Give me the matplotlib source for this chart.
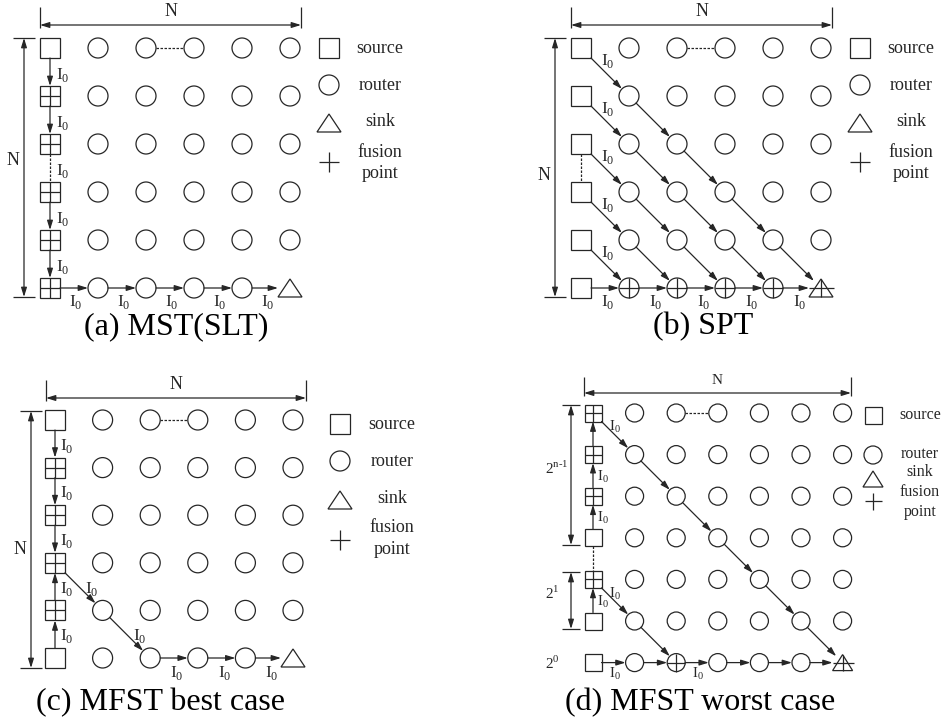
import matplotlib.pyplot as plt
from matplotlib.patches import Rectangle, Circle, Polygon

plt.rcParams['font.family'] = ['Liberation Serif', 'DejaVu Serif']
plt.rcParams['mathtext.fontset'] = 'custom'
plt.rcParams['mathtext.rm'] = 'Liberation Serif'

INK = '#262626'
LW = 0.9

# node kinds: S source, F source + fusion, R router, C router + fusion,
# T sink, X sink + fusion
grid_a = ["SRRRRR", "FRRRRR", "FRRRRR", "FRRRRR", "FRRRRR", "FRRRRT"]
grid_b = ["SRRRRR", "SRRRRR", "SRRRRR", "SRRRRR", "SRRRRR", "SCCCCX"]
grid_c = ["SRRRRR", "FRRRRR", "FRRRRR", "FRRRRR", "FRRRRR", "SRRRRT"]
grid_d = ["FRRRRRR", "FRRRRRR", "FRRRRRR", "SRRRRRR",
          "FRRRRRR", "SRRRRRR", "SRCRRRX"]

# routes as (row, col) chains, with a flag per hop for an I0 label
chains_a = [
    ([(0, 0), (1, 0), (2, 0)], [1, 1]),
    ([(3, 0), (4, 0), (5, 0), (5, 1), (5, 2), (5, 3), (5, 4), (5, 5)],
     [1, 1, 1, 1, 1, 1, 1]),
]
chains_b = [
    ([(0, 0), (1, 1), (2, 2), (3, 3), (4, 4), (5, 5)], [1, 0, 0, 0, 0]),
    ([(1, 0), (2, 1), (3, 2), (4, 3), (5, 4)], [1, 0, 0, 0]),
    ([(2, 0), (3, 1), (4, 2), (5, 3)], [1, 0, 0]),
    ([(3, 0), (4, 1), (5, 2)], [1, 0]),
    ([(4, 0), (5, 1)], [1]),
    ([(5, 0), (5, 1), (5, 2), (5, 3), (5, 4), (5, 5)], [1, 1, 1, 1, 1]),
]
chains_c = [
    ([(0, 0), (1, 0), (2, 0), (3, 0)], [1, 1, 1]),
    ([(5, 0), (4, 0), (3, 0)], [1, 1]),
    ([(3, 0), (4, 1), (5, 2), (5, 3), (5, 4), (5, 5)], [1, 1, 1, 1, 1]),
]
chains_d = [
    ([(3, 0), (2, 0), (1, 0), (0, 0)], [1, 1, 0]),
    ([(5, 0), (4, 0)], [1]),
    ([(0, 0), (1, 1), (2, 2), (3, 3), (4, 4), (5, 5), (6, 6)],
     [1, 0, 0, 0, 0, 0]),
    ([(4, 0), (5, 1), (6, 2)], [1, 0]),
    ([(6, 0), (6, 1), (6, 2), (6, 3), (6, 4), (6, 5), (6, 6)],
     [1, 0, 1, 0, 0, 0]),
]
# skipped stretches of the grid (dashed, no arrow head)
gaps_a = [((2, 0), (3, 0), 1), ((0, 2), (0, 3), 0)]
gaps_b = [((2, 0), (3, 0), 0), ((0, 2), (0, 3), 0)]
gaps_c = [((0, 2), (0, 3), 0)]
gaps_d = [((3, 0), (4, 0), 0), ((0, 2), (0, 3), 0)]

titles = ["(a) MST(SLT)", "(b) SPT", "(c) MFST best case", "(d) MFST worst case"]
legend_names = ["source", "router", "sink", "fusion\npoint"]
edge_label = "I$_0$"

fig = plt.figure(figsize=(9.43, 7.25), dpi=100)
ax = fig.add_axes([0, 0, 1, 1])
ax.set_xlim(0, 943)
ax.set_ylim(725, 0)
ax.axis('off')

big = dict(x0=0, y0=0, step=48, sq=10, r=10, tw=12, tup=8, tdn=9, fs=12.5)
small = dict(x0=0, y0=0, step=41.6, sq=8.5, r=9, tw=10, tup=7, tdn=8, fs=10.5)

lay_a = dict(big, x0=50, y0=48, step=48,
             off={'v': (13, 3), 'h': (2, 14), 'd': (3, -11)})
lay_b = dict(big, x0=581, y0=48, step=48,
             off={'v': (13, 3), 'h': (3, 14), 'd': (3, -11)})
lay_c = dict(big, x0=55, y0=420, step=47.6,
             off={'v': (12, 2), 'h': (3, 15), 'd': (13, 2)})
lay_d = dict(small, x0=593, y0=413, step=41.6,
             off={'v': (10, 1), 'h': (1, 11), 'd': (1, -7)})


def pos(lay, rc):
    return lay['x0'] + rc[1] * lay['step'], lay['y0'] + rc[0] * lay['step']


def line(xs, ys, **kw):
    ax.plot(xs, ys, color=INK, lw=LW, solid_capstyle='butt', **kw)


def shape(kind, x, y, lay):
    h, r, tw = lay['sq'], lay['r'], lay['tw']
    if kind in 'SF':
        ax.add_patch(Rectangle((x - h, y - h), 2 * h, 2 * h, fill=False, ec=INK, lw=LW))
        if kind == 'F':
            line([x - h, x + h], [y, y])
            line([x, x], [y - h, y + h])
    elif kind in 'RC':
        ax.add_patch(Circle((x, y), r, fill=False, ec=INK, lw=LW))
        if kind == 'C':
            line([x - r, x + r], [y, y])
            line([x, x], [y - r, y + r])
    else:
        top, bot = y - lay['tup'] - 1, y + lay['tdn']
        ax.add_patch(Polygon([(x - tw, bot), (x + tw, bot), (x, top)],
                             closed=True, fill=False, ec=INK, lw=LW))
        if kind == 'X':
            line([x, x], [top, bot])
            line([x - tw, x + tw + 1], [y, y])


def reach(kind, ux, uy, lay):
    # distance from a node centre to its outline along (ux, uy)
    if kind in 'SF':
        return lay['sq'] / max(abs(ux), abs(uy))
    if kind in 'RC':
        return lay['r']
    return lay['tw'] if abs(uy) < 1e-6 else lay['r']


def hop(grid, lay, a, b, arrow=True, label=False):
    (x0, y0), (x1, y1) = pos(lay, a), pos(lay, b)
    dx, dy = x1 - x0, y1 - y0
    d = (dx ** 2 + dy ** 2) ** 0.5
    ux, uy = dx / d, dy / d
    ka, kb = grid[a[0]][a[1]], grid[b[0]][b[1]]
    sa, sb = reach(ka, ux, uy, lay), reach(kb, -ux, -uy, lay)
    p0 = (x0 + ux * sa, y0 + uy * sa)
    p1 = (x1 - ux * sb, y1 - uy * sb)
    if arrow:
        ax.annotate('', xy=p1, xytext=p0,
                    arrowprops=dict(arrowstyle='-|>,head_length=0.55,head_width=0.17',
                                    color=INK, lw=LW, mutation_scale=10,
                                    shrinkA=0, shrinkB=0))
    else:
        line([p0[0], p1[0]], [p0[1], p1[1]], ls=(0, (2, 1.2)))
    if label:
        kind = 'v' if abs(dx) < 1e-6 else ('h' if abs(dy) < 1e-6 else 'd')
        ox, oy = lay['off'][kind]
        ax.text((x0 + x1) / 2 + ox, (y0 + y1) / 2 + oy, edge_label,
                fontsize=lay['fs'], ha='center', va='center', color=INK)


def dim_h(xa, xb, y, ytop, ybot, text, ty, fs):
    line([xa, xa], [ytop, ybot])
    line([xb, xb], [ytop, ybot])
    ax.annotate('', xy=(xb, y), xytext=(xa, y),
                arrowprops=dict(arrowstyle='<|-|>,head_length=0.55,head_width=0.17',
                                color=INK, lw=LW, mutation_scale=10,
                                shrinkA=0, shrinkB=0))
    if text:
        ax.text((xa + xb) / 2, ty, text, fontsize=fs, ha='center', va='center', color=INK)


def dim_v(ya, yb, x, xl, xr, text, tx, ty, fs):
    line([xl, xr], [ya, ya])
    line([xl, xr], [yb, yb])
    ax.annotate('', xy=(x, yb), xytext=(x, ya),
                arrowprops=dict(arrowstyle='<|-|>,head_length=0.55,head_width=0.17',
                                color=INK, lw=LW, mutation_scale=10,
                                shrinkA=0, shrinkB=0))
    if text:
        ax.text(tx, ty, text, fontsize=fs, ha='center', va='center', color=INK)


def legend(x, ys, tx, tys, lay, fs):
    h = lay['sq']
    shape('S', x, ys[0], lay)
    shape('R', x, ys[1], lay)
    shape('T', x, ys[2], lay)
    line([x - h, x + h], [ys[3], ys[3]])
    line([x, x], [ys[3] - h, ys[3] + h])
    for name, ty in zip(legend_names[:3], tys[:3]):
        ax.text(tx, ty, name, fontsize=fs, ha='center', va='center', color=INK)
    top, bottom = legend_names[3].split('\n')
    ax.text(tx, tys[3], top, fontsize=fs, ha='center', va='center', color=INK)
    ax.text(tx, tys[4], bottom, fontsize=fs, ha='center', va='center', color=INK)


def panel(grid, chains, gaps, lay):
    for i, row in enumerate(grid):
        for j, kind in enumerate(row):
            x, y = pos(lay, (i, j))
            shape(kind, x, y, lay)
    for nodes, flags in chains:
        for a, b, f in zip(nodes[:-1], nodes[1:], flags):
            hop(grid, lay, a, b, label=bool(f))
    for a, b, f in gaps:
        hop(grid, lay, a, b, arrow=False, label=bool(f))


panel(grid_a, chains_a, gaps_a, lay_a)
panel(grid_b, chains_b, gaps_b, lay_b)
panel(grid_c, chains_c, gaps_c, lay_c)
panel(grid_d, chains_d, gaps_d, lay_d)

# dimension marks
dim_h(40, 301, 25, 7, 28, "N", 11, 13)
dim_v(38, 297, 24, 13, 35, "N", 13, 160, 13)
dim_h(571, 832, 25, 7, 28, "N", 11, 13)
dim_v(38, 297, 555, 544, 566, "N", 544, 175, 13)
dim_h(46, 306, 398, 380, 401, "N", 384, 13)
dim_v(411, 668, 31, 20, 42, "N", 20, 550, 13)
dim_h(584, 851, 393, 377, 396, "N", 380, 11)
dim_v(405, 545, 571, 562, 580, "2$^{\\mathrm{n}\\text{-}\\mathrm{1}}$", 557, 468, 11)
dim_v(572, 629, 571, 562, 580, "2$^{1}$", 552, 593, 11)
ax.text(552, 663, "2$^{0}$", fontsize=11, ha='center', va='center', color=INK)

# legends
legend(329, [48, 85, 123, 162], 380, [48, 85, 121, 152, 173], big, 13)
legend(860, [48, 85, 123, 162], 911, [48, 85, 121, 152, 173], big, 13)
legend(340, [424, 461, 500, 540], 392, [424, 461, 498, 528, 550], big, 13)
legend(873, [415, 455, 479, 501], 920, [415, 454, 472, 492, 512], small, 11.5)

# captions
cap = dict(fontsize=23, ha='center', va='center', color='black')
ax.text(176, 327, titles[0], **cap)
ax.text(703, 327, titles[1], **cap)
ax.text(161, 703, titles[2], **cap)
ax.text(700, 703, titles[3], **cap)

fig.savefig('out.png', dpi=100)
